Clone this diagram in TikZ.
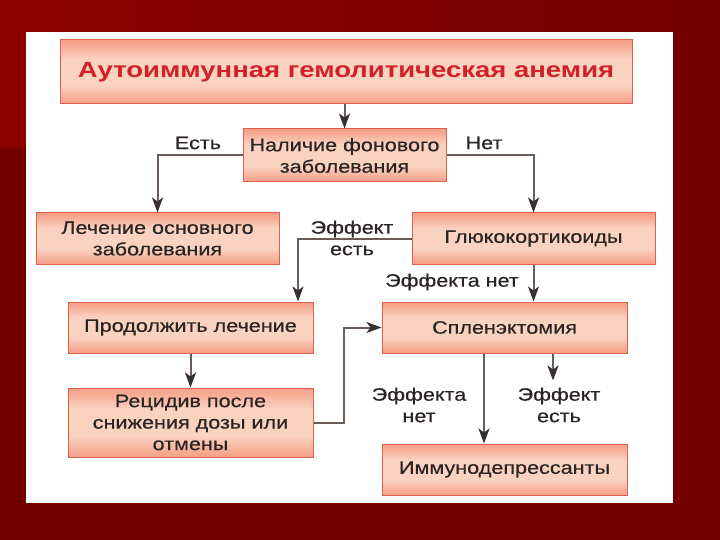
\documentclass[tikz,border=0pt]{standalone}
\usepackage{fontspec}
\setmainfont[FakeStretch=1.2,FakeBold=0.5]{Liberation Sans}
\newfontfamily\titlefont[FakeStretch=1.25]{Liberation Sans}
\usetikzlibrary{arrows.meta}
\definecolor{bgdark}{HTML}{740000}
\definecolor{bgmid}{HTML}{8C0000}
\definecolor{bsA}{HTML}{F0846F}
\definecolor{bsB}{HTML}{F6A790}
\definecolor{bsC}{HTML}{FAD3C0}
\definecolor{boxline}{HTML}{E0604E}
\definecolor{txt}{HTML}{2A2424}
\definecolor{titlered}{HTML}{D2202A}
\definecolor{lineg}{HTML}{6A5C56}
\definecolor{tipg}{HTML}{363030}
\pgfdeclareverticalshading{boxshade}{100bp}{color(0bp)=(bsA); color(15bp)=(bsA); color(28bp)=(bsB); color(40bp)=(bsC); color(60bp)=(bsC); color(72bp)=(bsB); color(85bp)=(bsA); color(100bp)=(bsA)}
\tikzset{
  box/.style={draw=boxline, line width=1pt, shading=boxshade, inner sep=0pt,
    align=center, text=txt, font=\fontsize{18}{21.5}\selectfont},
  lbl/.style={inner sep=0pt, align=center, text=txt, font=\fontsize{18}{21.5}\selectfont},
  arr/.style={draw=lineg, line width=2pt,
    -{Stealth[length=15pt,width=11pt,inset=4pt,color=tipg]}}
}
\begin{document}
\begin{tikzpicture}[x=1pt,y=-1pt]
\useasboundingbox (0,0) rectangle (720,540);
% background
\fill[bgdark] (0,0) rectangle (720,540);
\shade[left color=bgmid, right color=bgdark] (0,0) rectangle (720,32);
\fill[bgmid] (0,0) rectangle (26,148);
\fill[white] (26,32) rectangle (673,503);
% boxes
\node[box, minimum width=572pt, minimum height=64pt, text=titlered,
  font=\titlefont\fontsize{22}{26}\selectfont\bfseries] (title) at (346,72)
  {Аутоиммунная гемолитическая анемия};
\node[box, minimum width=203pt, minimum height=53pt] (nal) at (344.5,155.5)
  {Наличие фонового\\заболевания};
\node[box, minimum width=243pt, minimum height=51pt] (lech) at (157.5,238.5)
  {Лечение основного\\заболевания};
\node[box, minimum width=243pt, minimum height=51pt] (gluk) at (533.5,238.5)
  {Глюкокортикоиды};
\node[box, minimum width=245pt, minimum height=51pt] (prod) at (190.5,327.5)
  {Продолжить лечение};
\node[box, minimum width=245pt, minimum height=69pt] (recid) at (190.5,422.5)
  {Рецидив после\\снижения дозы или\\отмены};
\node[box, minimum width=245pt, minimum height=51pt] (splen) at (504.5,327.5)
  {Спленэктомия};
\node[box, minimum width=245pt, minimum height=51pt] (immun) at (504.5,469.5)
  {Иммунодепрессанты};
% labels
\node[lbl] (lest) at (198,143) {Есть};
\node[lbl] (lnet) at (484,143) {Нет};
\node[lbl] (leff1) at (352,238) {Эффект\\есть};
\node[lbl] (leff2) at (452,282) {Эффекта нет};
\node[lbl] (leff3) at (419,405) {Эффекта\\нет};
\node[lbl] (leff4) at (559,405) {Эффект\\есть};
% connectors
\draw[arr] (nal.north |- title.south) -- (nal.north);
\draw[arr] (nal.west) -| (lech.north);
\draw[arr] (nal.east) -| (gluk.north);
\coordinate (pin) at ([xshift=107.5pt]prod.north);
\draw[arr] (gluk.west) -| (pin);
\draw[arr] (gluk.south) -- (gluk.south |- splen.north);
\draw[arr] (prod.south) -- (recid.north);
\coordinate (rbend) at ([xshift=30pt]recid.east);
\draw[arr] (recid.east) -- (rbend) |- (splen.west);
\draw[arr] ([xshift=-20.5pt]splen.south) -- ([xshift=-20.5pt]immun.north);
\coordinate (effend) at ([xshift=48.5pt,yshift=-27pt]splen.south);
\draw[arr] ([xshift=48.5pt]splen.south) -- (effend);
\end{tikzpicture}
\end{document}
